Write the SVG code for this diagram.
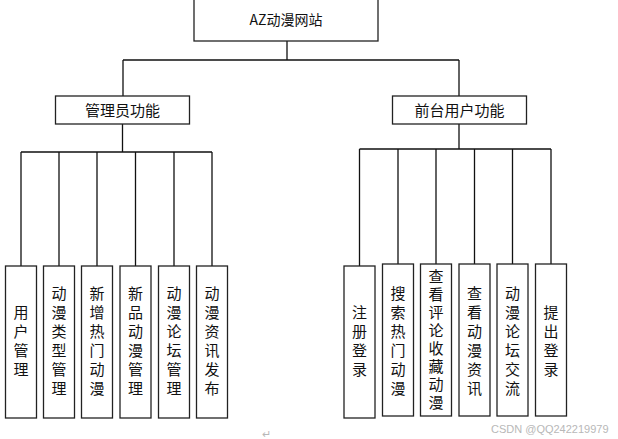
<svg xmlns="http://www.w3.org/2000/svg" width="618" height="439" viewBox="0 0 618 439">
<style>
.box{fill:#fff;stroke:#222;stroke-width:1.3}
.ln{fill:none;stroke:#111;stroke-width:1.3}
.t{font-family:"Noto Sans CJK SC","Liberation Sans",sans-serif;font-size:15px;fill:#111;text-anchor:middle}
.title{font-size:14px}
.vert{writing-mode:vertical-rl;text-anchor:start;letter-spacing:3px}
.wm{font-family:"Liberation Sans","Noto Sans",sans-serif;font-size:11px;fill:#b8b8b8}
</style>
<rect width="618" height="439" fill="#fff"/>
<g id="connectors">
<path class="ln" d="M287 41V60M123 60H459M123 60V96M459 60V96"/>
<path class="ln" d="M122.5 124V152M21 152H212M21 152V266M59 152V266M97 152V266M135.5 152V266M174 152V266M212 152V266"/>
<path class="ln" d="M459 124V149M359.5 149H551M359.5 149V266M398 149V264M436 149V264M474.5 149V264M512.5 149V264M551 149V264"/>
</g>
<g id="root"><rect class="box" x="194" y="-1" width="184" height="42"/><text class="t title" x="286" y="25">AZ动漫网站</text></g>
<g id="admin"><rect class="box" x="55.5" y="96" width="134" height="28"/><text class="t" x="122.5" y="115.5">管理员功能</text></g>
<g id="front"><rect class="box" x="392.5" y="96" width="134" height="28"/><text class="t" x="459.5" y="115.5">前台用户功能</text></g>

<g id="a1"><rect class="box" x="5.5" y="266" width="31" height="152"/><text class="t"><tspan x="21" y="318">用</tspan><tspan x="21" y="337">户</tspan><tspan x="21" y="356">管</tspan><tspan x="21" y="375">理</tspan></text></g>
<g id="a2"><rect class="box" x="43.5" y="266" width="31" height="152"/><text class="t"><tspan x="59" y="299">动</tspan><tspan x="59" y="318">漫</tspan><tspan x="59" y="337">类</tspan><tspan x="59" y="356">型</tspan><tspan x="59" y="375">管</tspan><tspan x="59" y="394">理</tspan></text></g>
<g id="a3"><rect class="box" x="81.5" y="266" width="31" height="152"/><text class="t"><tspan x="97" y="299">新</tspan><tspan x="97" y="318">增</tspan><tspan x="97" y="337">热</tspan><tspan x="97" y="356">门</tspan><tspan x="97" y="375">动</tspan><tspan x="97" y="394">漫</tspan></text></g>
<g id="a4"><rect class="box" x="120" y="266" width="31" height="152"/><text class="t"><tspan x="135.5" y="299">新</tspan><tspan x="135.5" y="318">品</tspan><tspan x="135.5" y="337">动</tspan><tspan x="135.5" y="356">漫</tspan><tspan x="135.5" y="375">管</tspan><tspan x="135.5" y="394">理</tspan></text></g>
<g id="a5"><rect class="box" x="158.5" y="266" width="31" height="152"/><text class="t"><tspan x="174" y="299">动</tspan><tspan x="174" y="318">漫</tspan><tspan x="174" y="337">论</tspan><tspan x="174" y="356">坛</tspan><tspan x="174" y="375">管</tspan><tspan x="174" y="394">理</tspan></text></g>
<g id="a6"><rect class="box" x="196.5" y="266" width="31" height="152"/><text class="t"><tspan x="212" y="299">动</tspan><tspan x="212" y="318">漫</tspan><tspan x="212" y="337">资</tspan><tspan x="212" y="356">讯</tspan><tspan x="212" y="375">发</tspan><tspan x="212" y="394">布</tspan></text></g>

<g id="f1"><rect class="box" x="344" y="266" width="31" height="152"/><text class="t"><tspan x="359.5" y="318">注</tspan><tspan x="359.5" y="337">册</tspan><tspan x="359.5" y="356">登</tspan><tspan x="359.5" y="375">录</tspan></text></g>
<g id="f2"><rect class="box" x="382.5" y="264" width="31" height="152"/><text class="t"><tspan x="398" y="299">搜</tspan><tspan x="398" y="318">索</tspan><tspan x="398" y="337">热</tspan><tspan x="398" y="356">门</tspan><tspan x="398" y="375">动</tspan><tspan x="398" y="394">漫</tspan></text></g>
<g id="f3"><rect class="box" x="420.5" y="264" width="31" height="152"/><text class="t vert" x="436" y="268.5">查看评论收藏动漫</text></g>
<g id="f4"><rect class="box" x="459" y="264" width="31" height="152"/><text class="t"><tspan x="474.5" y="299">查</tspan><tspan x="474.5" y="318">看</tspan><tspan x="474.5" y="337">动</tspan><tspan x="474.5" y="356">漫</tspan><tspan x="474.5" y="375">资</tspan><tspan x="474.5" y="394">讯</tspan></text></g>
<g id="f5"><rect class="box" x="497" y="264" width="31" height="152"/><text class="t"><tspan x="512.5" y="299">动</tspan><tspan x="512.5" y="318">漫</tspan><tspan x="512.5" y="337">论</tspan><tspan x="512.5" y="356">坛</tspan><tspan x="512.5" y="375">交</tspan><tspan x="512.5" y="394">流</tspan></text></g>
<g id="f6"><rect class="box" x="535.5" y="264" width="31" height="152"/><text class="t"><tspan x="551" y="318">提</tspan><tspan x="551" y="337">出</tspan><tspan x="551" y="356">登</tspan><tspan x="551" y="375">录</tspan></text></g>

<text class="wm" x="262" y="438" fill="#aaa">↵</text>
<text class="wm" x="491" y="433">CSDN @QQ242219979</text>
</svg>
